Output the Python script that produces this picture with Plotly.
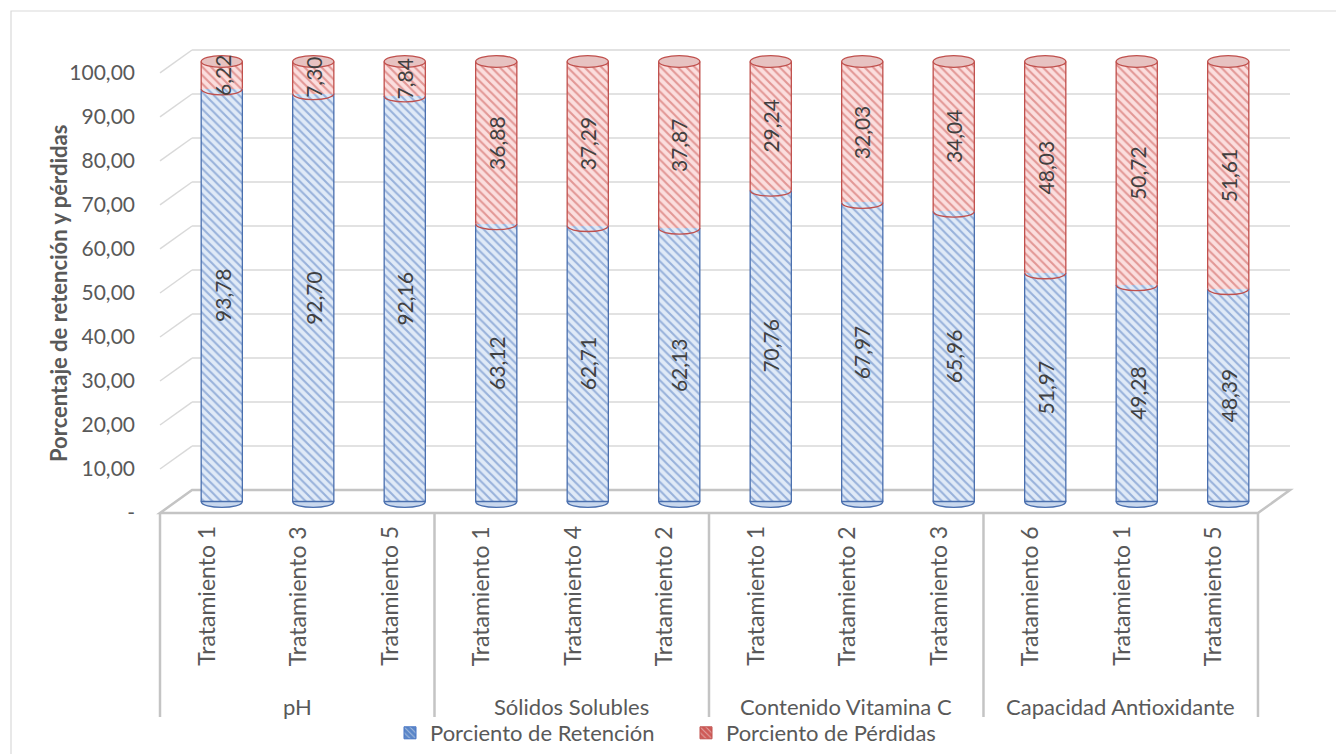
import plotly.graph_objects as go

# ---- data ----
groups = ["pH", "Sólidos Solubles", "Contenido Vitamina C", "Capacidad Antioxidante"]
treatments = ["Tratamiento 1", "Tratamiento 3", "Tratamiento 5",
              "Tratamiento 1", "Tratamiento 4", "Tratamiento 2",
              "Tratamiento 1", "Tratamiento 2", "Tratamiento 3",
              "Tratamiento 6", "Tratamiento 1", "Tratamiento 5"]
retencion = [93.78, 92.70, 92.16, 63.12, 62.71, 62.13, 70.76, 67.97, 65.96, 51.97, 49.28, 48.39]
perdidas = [6.22, 7.30, 7.84, 36.88, 37.29, 37.87, 29.24, 32.03, 34.04, 48.03, 50.72, 51.61]
y_ticks = [0, 10, 20, 30, 40, 50, 60, 70, 80, 90, 100]
series_names = ["Porciento de Retención", "Porciento de Pérdidas"]

# ---- geometry of the pseudo-3D box ----
W, H = 1336, 754
N = len(treatments)
DX = 0.175        # half depth offset, category units
DY = 2.61         # half depth offset, value units
XR = (-0.5 - DX, N - 0.5 + DX)
YR = (-DY, 100 + DY)
DOMX = (160 / W, 1290 / W)
DOMY = (1 - 513 / H, 1 - 50 / H)
BAR_W = 0.45
CAP_H = 2.7       # ellipse height of the cylinder caps (value units)

FONT = "Lato"
TXT = "#595959"
BLUE_BG, BLUE_FG, BLUE_LN = "#e0eaf7", "#4f78bd", "#4a6fae"
RED_BG, RED_FG, RED_LN = "#fbdede", "#c9504c", "#c0504d"


def fmt(v):
    return "-" if v == 0 else f"{v:.2f}".replace(".", ",")


def px(xd):
    return DOMX[0] + (xd - XR[0]) / (XR[1] - XR[0]) * (DOMX[1] - DOMX[0])


def py(yd):
    return DOMY[0] + (yd - YR[0]) / (YR[1] - YR[0]) * (DOMY[1] - DOMY[0])


fig = go.Figure()
xs = list(range(N))
for vals, bg, fg in ((retencion, BLUE_BG, BLUE_FG), (perdidas, RED_BG, RED_FG)):
    fig.add_trace(go.Bar(
        x=xs, y=vals, width=BAR_W, showlegend=False,
        marker=dict(color=bg, line=dict(width=0),
                    pattern=dict(shape="\\", fgcolor=fg, bgcolor=bg,
                                 size=6, solidity=0.35)),
        hoverinfo="skip"))

# legend keys: small saturated swatches
for name, col, ln in ((series_names[0], "#5a86c8", "#4472c4"),
                      (series_names[1], "#cf5a57", "#c0504d")):
    fig.add_trace(go.Bar(
        x=[None], y=[None], name=name,
        marker=dict(color=col, line=dict(color=ln, width=1),
                    pattern=dict(shape="\\", fgcolor="#f2f2f2", bgcolor=col,
                                 size=5, solidity=0.25)),
        hoverinfo="skip"))

shapes = []
GRID = "#d9d9d9"
FLOOR = "#c4c4c4"

# back wall gridlines and left-side diagonals
for v in y_ticks[1:]:
    shapes.append(dict(type="line", xref="paper", yref="paper",
                       x0=px(XR[0] + 2 * DX), y0=py(v + DY), x1=px(XR[1]), y1=py(v + DY),
                       line=dict(color=GRID, width=1.5), layer="below"))
    shapes.append(dict(type="line", xref="paper", yref="paper",
                       x0=px(XR[0]), y0=py(v - DY), x1=px(XR[0] + 2 * DX), y1=py(v + DY),
                       line=dict(color=GRID, width=1.5), layer="below"))

# floor
floor = (f"M {px(XR[0])},{py(-DY)} L {px(XR[1] - 2 * DX)},{py(-DY)} "
         f"L {px(XR[1])},{py(DY)} L {px(XR[0] + 2 * DX)},{py(DY)} Z")
shapes.append(dict(type="path", xref="paper", yref="paper", path=floor,
                   line=dict(color=FLOOR, width=2.5), layer="below"))

# group separators on the category axis
for g in range(len(groups) + 1):
    xg = XR[0] + 3 * g
    shapes.append(dict(type="line", xref="paper", yref="paper",
                       x0=px(xg), y0=py(-DY), x1=px(xg), y1=1 - 717 / H,
                       line=dict(color=FLOOR, width=2.5)))

# outer chart border
shapes.append(dict(type="rect", xref="paper", yref="paper",
                   x0=11 / W, y0=-0.05, x1=1.05, y1=1 - 11 / H,
                   line=dict(color="#d9d9d9", width=1.2), layer="below"))


def lower_half(cx, cy, a, b):
    k = 4 / 3 * b
    return (f"M {px(cx - a)},{py(cy)} C {px(cx - a)},{py(cy - k)} "
            f"{px(cx + a)},{py(cy - k)} {px(cx + a)},{py(cy)}")


a = BAR_W / 2
b = CAP_H / 2
for i in xs:
    r, p = retencion[i], perdidas[i]
    top = r + p
    # side outlines
    for side in (-a, a):
        shapes.append(dict(type="line", xref="paper", yref="paper",
                           x0=px(i + side), y0=py(0), x1=px(i + side), y1=py(r),
                           line=dict(color=BLUE_LN, width=1.3)))
        shapes.append(dict(type="line", xref="paper", yref="paper",
                           x0=px(i + side), y0=py(r), x1=px(i + side), y1=py(top),
                           line=dict(color=RED_LN, width=1.3)))
    # rounded bottom
    shapes.append(dict(type="path", xref="paper", yref="paper",
                       path=lower_half(i, 0, a, b) + " Z",
                       fillcolor="#c9d8ee", line=dict(color=BLUE_LN, width=1.3)))
    # boundary between the two segments
    shapes.append(dict(type="path", xref="paper", yref="paper",
                       path=lower_half(i, r, a, b),
                       line=dict(color=RED_LN, width=1.3)))
    # top cap
    shapes.append(dict(type="circle", xref="paper", yref="paper",
                       x0=px(i - a), x1=px(i + a), y0=py(top - b), y1=py(top + b),
                       fillcolor="#e7c2c1", line=dict(color=RED_LN, width=1.3)))

annotations = []
# value labels
for i in xs:
    for val, mid in ((retencion[i], retencion[i] / 2),
                     (perdidas[i], retencion[i] + perdidas[i] / 2)):
        annotations.append(dict(x=i, y=mid, xref="x", yref="y", text=fmt(val),
                                textangle=-90, showarrow=False,
                                font=dict(family=FONT, size=21, color="#404040")))

# category labels (front plane)
for i, t in enumerate(treatments):
    annotations.append(dict(x=px(i - DX), y=1 - 524 / H, xref="paper", yref="paper",
                            text=t, textangle=-90, showarrow=False,
                            xanchor="center", yanchor="top",
                            font=dict(family=FONT, size=23, color=TXT)))
for g, name in enumerate(groups):
    annotations.append(dict(x=px(XR[0] + 3 * g + 1.5), y=1 - 706 / H, xref="paper", yref="paper",
                            text=name, showarrow=False, xanchor="center", yanchor="middle",
                            font=dict(family=FONT, size=22, color=TXT)))

# value axis title
annotations.append(dict(x=58 / W, y=1 - 294 / H, xref="paper", yref="paper",
                        text="<b>Porcentaje de retención y pérdidas</b>", textangle=-90,
                        showarrow=False, xanchor="center", yanchor="middle",
                        font=dict(family=FONT, size=22, color=TXT)))

fig.update_layout(
    width=W, height=H, barmode="stack", bargap=0,
    paper_bgcolor="white", plot_bgcolor="rgba(0,0,0,0)",
    margin=dict(l=0, r=0, t=0, b=0, autoexpand=False),
    font=dict(family=FONT, color=TXT),
    xaxis=dict(domain=list(DOMX), range=list(XR), showgrid=False, zeroline=False,
               showticklabels=False, showline=False, fixedrange=True),
    yaxis=dict(domain=list(DOMY), range=list(YR), showgrid=False, zeroline=False,
               tickmode="array", tickvals=[v - DY for v in y_ticks],
               ticktext=[fmt(v) for v in y_ticks], ticks="", ticklabelstandoff=24,
               tickfont=dict(family=FONT, size=21, color=TXT), showline=False,
               fixedrange=True),
    legend=dict(orientation="h", x=390 / W, xanchor="left", y=1 - 733 / H, yanchor="middle",
                font=dict(family=FONT, size=22, color=TXT), bgcolor="rgba(0,0,0,0)",
                traceorder="normal", itemwidth=30, entrywidth=251, entrywidthmode="pixels"),
    shapes=shapes, annotations=annotations, showlegend=True,
)

fig.write_html("out.html")
